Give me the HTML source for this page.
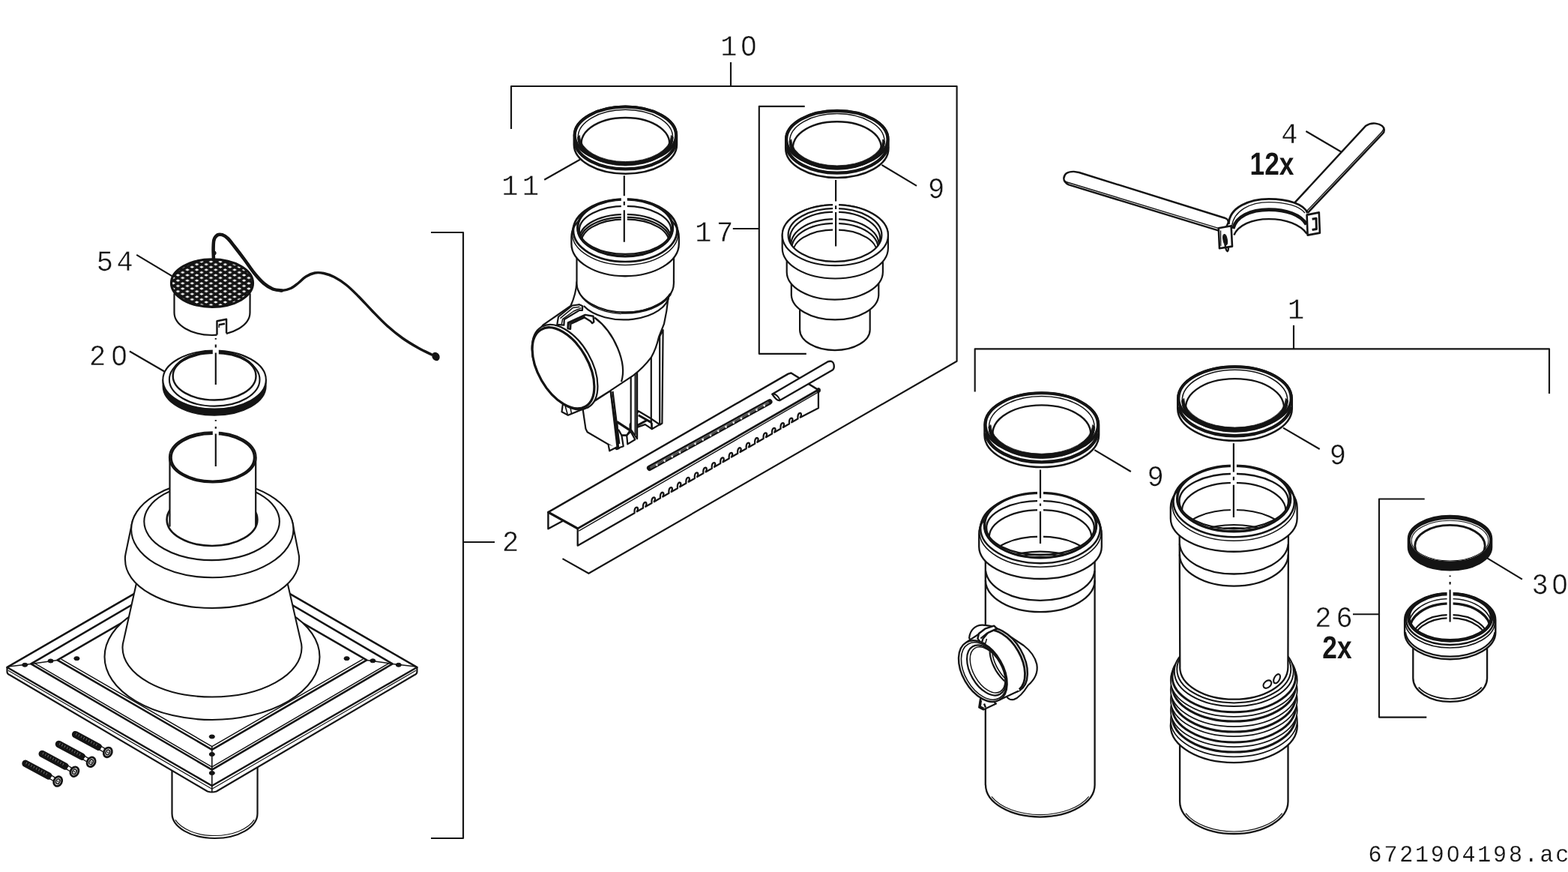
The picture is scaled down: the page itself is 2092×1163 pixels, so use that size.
<!DOCTYPE html>
<html lang="en">
<head>
<meta charset="utf-8">
<title>6721904198.ac</title>
<style>
html,body{margin:0;padding:0;background:#fff;}
body{width:2092px;height:1163px;overflow:hidden;}
svg{display:block;}
.l{fill:none;stroke:#141414;stroke-linecap:butt;stroke-linejoin:round;}
.r{fill:none;stroke:#141414;stroke-linecap:round;stroke-linejoin:round;}
.f{fill:#fff;stroke:#141414;stroke-linecap:round;stroke-linejoin:round;}
.k{fill:#141414;stroke:#141414;stroke-linejoin:round;}
.m,.b{-webkit-font-smoothing:antialiased;}
.m{font-family:"Liberation Mono","DejaVu Sans Mono",monospace;fill:#141414;stroke:#fff;}
.b{font-family:"Liberation Sans","DejaVu Sans",sans-serif;font-weight:bold;fill:#141414;}
</style>
</head>
<body>
<svg text-rendering="geometricPrecision" width="2092" height="1163" viewBox="0 0 2092 1163">
<rect x="0" y="0" width="2092" height="1163" fill="#fff"/>
<g id="labels" opacity="0.999">
<path d="M575,310 L618,310 L618,1118 L575,1118" class="l" stroke-width="2.15" />
<path d="M618,723 L660,723" class="l" stroke-width="2.15" />
<text transform="translate(670,735) scale(0.95,1)" font-size="39" letter-spacing="4.6" class="m" stroke-width="0.4">2</text>
<path d="M682,172 L682,115 L1276.6,115 L1276.6,481.7 L785.4,764.8 L750.5,745.1" class="l" stroke-width="2.15" />
<path d="M975,115 L975,83" class="l" stroke-width="2.15" />
<text transform="translate(961.2,73.8) scale(0.95,1)" font-size="39" letter-spacing="4.6" class="m" stroke-width="0.4">10</text>
<ellipse cx="998.92" cy="60.73" rx="3.15" ry="5.46" fill="#fff"/>
<path d="M1073.7,141.8 L1012.8,141.8 L1012.8,471.8 L1075.8,471.8" class="l" stroke-width="2.15" />
<path d="M1012.8,305 L977.8,305" class="l" stroke-width="2.15" />
<text transform="translate(927.3,322.2) scale(0.95,1)" font-size="39" letter-spacing="6.7" class="m" stroke-width="0.4">17</text>
<path d="M1300.7,522.4 L1300.7,465.4 L2067,465.4 L2067,525" class="l" stroke-width="2.15" />
<path d="M1726,465.4 L1726,433.8" class="l" stroke-width="2.15" />
<text transform="translate(1718,425) scale(0.95,1)" font-size="39" letter-spacing="4.6" class="m" stroke-width="0.4">1</text>
<path d="M1900.7,665.5 L1840,665.5 L1840,956.6 L1903.3,956.6" class="l" stroke-width="2.15" />
<path d="M1840,819.2 L1805,819.2" class="l" stroke-width="2.15" />
<text transform="translate(1754.3,836.3) scale(0.95,1)" font-size="39" letter-spacing="6.2" class="m" stroke-width="0.4">26</text>
<text transform="translate(1764.3,878.3) scale(0.833,1)" font-size="42.4" class="b">2x</text>
<text transform="translate(1709.3,190.6) scale(0.95,1)" font-size="39" letter-spacing="4.6" class="m" stroke-width="0.4">4</text>
<path d="M1742.4,175 L1790.6,203.3" class="l" stroke-width="2.15" />
<text transform="translate(1667.5,233.4) scale(0.833,1)" font-size="42.4" class="b">12x</text>
<text transform="translate(669.3,260) scale(0.95,1)" font-size="39" letter-spacing="5.6" class="m" stroke-width="0.4">11</text>
<path d="M726.2,239.7 L773.9,212.7" class="l" stroke-width="2.15" />
<text transform="translate(1238,264.2) scale(0.95,1)" font-size="39" letter-spacing="4.6" class="m" stroke-width="0.4">9</text>
<path d="M1176.4,219.9 L1223,247.8" class="l" stroke-width="2.15" />
<text transform="translate(128.8,361) scale(0.95,1)" font-size="39" letter-spacing="4.6" class="m" stroke-width="0.4">54</text>
<path d="M182.2,339.8 L229.8,368.3" class="l" stroke-width="2.15" />
<text transform="translate(119,487.3) scale(0.95,1)" font-size="39" letter-spacing="7.2" class="m" stroke-width="0.4">20</text>
<ellipse cx="159.19" cy="474.24" rx="3.15" ry="5.46" fill="#fff"/>
<path d="M172.9,468.5 L220.7,496.2" class="l" stroke-width="2.15" />
<text transform="translate(1530.6,648.4) scale(0.95,1)" font-size="39" letter-spacing="4.6" class="m" stroke-width="0.4">9</text>
<path d="M1460.3,600.1 L1508.8,629" class="l" stroke-width="2.15" />
<text transform="translate(1773.7,619.3) scale(0.95,1)" font-size="39" letter-spacing="4.6" class="m" stroke-width="0.4">9</text>
<path d="M1712,570.6 L1760.7,599" class="l" stroke-width="2.15" />
<text transform="translate(2043.5,792.2) scale(0.95,1)" font-size="39" letter-spacing="4.6" class="m" stroke-width="0.4">30</text>
<ellipse cx="2081.22" cy="779.13" rx="3.15" ry="5.46" fill="#fff"/>
<path d="M1984.2,744.3 L2030.9,772.7" class="l" stroke-width="2.15" />
<text transform="translate(1825.6,1148.6) scale(0.96,1)" font-size="31.3" letter-spacing="2.9" class="m" stroke-width="0.15">6721904198.ac</text>
<ellipse cx="1938.68" cy="1138.11" rx="2.55" ry="4.38" fill="#fff"/>
</g>
<g id="left">
<path d="M229.5,990 L229.5,1085 L229.50,1085.00 A57,33 0 0 0 343.50,1085.00 L343.6,990" class="f" stroke-width="2.2" />
<path d="M233.88,1093.44 A56,32 0 0 0 339.12,1093.44" class="l" stroke-width="1.2" />
<path d="M9.5,890 L9.5,896 Q9.5,899 13.5,900.5 L276.8,1055.5 Q282.8,1057.5 288.8,1055.5 L552.4,900.5 Q556.4,899 556.4,896 L556.4,890 L282.8,732 Z" class="f" stroke-width="2.2" />
<path d="M9.50,890.00 L282.80,1048.00 L556.40,890.00 L282.80,732.00Z" class="f" stroke-width="2.5" />
<path d="M11.0,894.2 L282.8,1052.2 L554.9,894.2" class="l" stroke-width="1.2" />
<path d="M41.30,885.40 L282.80,1026.60 L523.70,885.40 L282.80,744.20Z" class="f" stroke-width="2.5" />
<path d="M45.8,884.4 L282.8,1022.8999999999999 L519.2,884.4" class="l" stroke-width="1.5" />
<path d="M76.60,880.40 L282.80,999.80 L489.30,880.40 L282.80,761.00Z" class="f" stroke-width="2.5" />
<path d="M81.6,879.1999999999999 L282.8,995.5999999999999 L484.3,879.1999999999999" class="l" stroke-width="1.5" />
<path d="M11.5,889 L41.3,885.4 L76.6,880.4" class="l" stroke-width="1.5" />
<path d="M554.4,889 L523.7,885.4 L489.3,880.4" class="l" stroke-width="1.5" />
<path d="M282.8,995.8 L282.8,1056" class="l" stroke-width="1.6" />
<ellipse cx="33.2" cy="886.8" rx="3.6" ry="2.5" class="k" stroke-width="1" />
<ellipse cx="67.6" cy="881.5" rx="3.6" ry="2.5" class="k" stroke-width="1" />
<ellipse cx="102.4" cy="878.2" rx="3.6" ry="2.5" class="k" stroke-width="1" />
<ellipse cx="531.8" cy="886.8" rx="3.6" ry="2.5" class="k" stroke-width="1" />
<ellipse cx="497.4" cy="881.3" rx="3.6" ry="2.5" class="k" stroke-width="1" />
<ellipse cx="462.6" cy="878.2" rx="3.6" ry="2.5" class="k" stroke-width="1" />
<ellipse cx="282.8" cy="982.5" rx="3.6" ry="2.5" class="k" stroke-width="1" />
<ellipse cx="282.8" cy="1006" rx="3.6" ry="2.5" class="k" stroke-width="1" />
<ellipse cx="282.8" cy="1031" rx="3.6" ry="2.5" class="k" stroke-width="1" />
<ellipse cx="283" cy="876" rx="143.5" ry="84" class="f" stroke-width="2.09" />
<path d="M182.3,776.4 L165.2,853 Q163.3,860 163.5,864 L163.50,864.00 A119.5,65.5 0 0 0 402.50,864.00 Q402.7,860 400.8,853 L383.3,776.4 Z" class="f" stroke-width="2.09" />
<path d="M175.2,702 L167.6,738.5 Q166.6,743 167,747 L167.00,747.00 A116,64 0 0 0 399.00,747.00 Q399.4,743 398.4,738.5 L391.2,702 L391.50,706.00 A108.2,63 0 0 0 175.10,706.00 Z" class="f" stroke-width="2.09" />
<ellipse cx="283.3" cy="706" rx="108.2" ry="64.3" class="f" stroke-width="2.09" />
<ellipse cx="282.6" cy="695.6" rx="90.3" ry="51.5" class="f" stroke-width="2.09" />
<ellipse cx="283" cy="693" rx="60.4" ry="35" class="f" stroke-width="2.6" />
<path d="M226.5,610 L226.5,700 L341.2,700 L341.2,610 Z" class="f" stroke-width="0" stroke="none"/>
<path d="M226.5,610 L226.5,702.5" class="l" stroke-width="2.2" />
<path d="M341.2,610 L341.2,702.5" class="l" stroke-width="2.2" />
<ellipse cx="283.8" cy="609.9" rx="57.9" ry="33.7" class="f" stroke-width="1.98" />
<ellipse cx="283.8" cy="610.2" rx="55.6" ry="31.8" class="l" stroke-width="3.2" />
<path d="M217.30,506.60 A68.8,39 0 0 0 354.90,506.60 L354.9,515 L354.90,515.00 A68.8,39 0 0 1 217.30,515.00 Z" class="k" stroke-width="1.5" />
<ellipse cx="286.1" cy="506.6" rx="68.8" ry="39" class="f" stroke-width="2.09" />
<ellipse cx="286.2" cy="506.3" rx="60.3" ry="35.3" class="l" stroke-width="2.09" />
<ellipse cx="286.1" cy="501.5" rx="55.4" ry="32" class="l" stroke-width="2.42" />
<path d="M232.07,491.70 A57.5,34.5 0 0 1 340.13,491.70" class="l" stroke-width="3.0" />
<defs><pattern id="mesh" width="12.6" height="7.2" patternUnits="userSpaceOnUse" patternTransform="translate(281.5 370.6)"><rect width="12.6" height="7.2" fill="#141414"/><path d="M-2.9,0 L0,-1.65 L2.9,0 L0,1.65Z M9.7,0 L12.6,-1.65 L15.5,0 L12.6,1.65Z M-2.9,7.2 L0,5.55 L2.9,7.2 L0,8.85Z M9.7,7.2 L12.6,5.55 L15.5,7.2 L12.6,8.85Z M3.4,3.6 L6.3,1.95 L9.2,3.6 L6.3,5.25Z" fill="#fff"/></pattern></defs>
<path d="M232.5,392 L232.5,417 L232.50,417.00 A50.5,30 0 0 0 333.50,417.00 L333.6,392 Z" class="f" stroke-width="2.2" />
<path d="M289.5,450 L289.5,428.3 L302.1,425.8 L302.1,450 Z" class="f" stroke-width="0" stroke="none"/>
<path d="M289.5,446.6 L289.5,428.3 L302.1,425.8 L302.1,444.6" class="l" stroke-width="2.42" />
<path d="M292,433.3 L300,431.8" class="l" stroke-width="2.6" />
<path d="M292.2,433 L292.2,437" class="l" stroke-width="1.4" />
<ellipse cx="283" cy="377.6" rx="54.5" ry="31.7" fill="url(#mesh)" stroke="#141414" stroke-width="3.2"/>
<path d="M285.00,346.00 C284.93,343.67 284.52,336.33 284.60,332.00 C284.68,327.67 284.60,323.08 285.50,320.00 C286.40,316.92 288.17,314.63 290.00,313.50 C291.83,312.37 294.17,312.45 296.50,313.20 C298.83,313.95 301.25,315.37 304.00,318.00 C306.75,320.63 309.33,324.33 313.00,329.00 C316.67,333.67 321.67,340.17 326.00,346.00 C330.33,351.83 334.67,358.67 339.00,364.00 C343.33,369.33 347.83,374.42 352.00,378.00 C356.17,381.58 360.00,383.92 364.00,385.50 C368.00,387.08 372.00,387.67 376.00,387.50 C380.00,387.33 384.33,386.17 388.00,384.50 C391.67,382.83 394.67,380.08 398.00,377.50 C401.33,374.92 404.33,371.25 408.00,369.00 C411.67,366.75 416.00,364.75 420.00,364.00 C424.00,363.25 427.67,363.58 432.00,364.50 C436.33,365.42 441.00,366.92 446.00,369.50 C451.00,372.08 456.67,375.75 462.00,380.00 C467.33,384.25 472.33,389.33 478.00,395.00 C483.67,400.67 489.67,407.50 496.00,414.00 C502.33,420.50 509.17,427.83 516.00,434.00 C522.83,440.17 530.00,446.00 537.00,451.00 C544.00,456.00 551.50,460.33 558.00,464.00 C564.50,467.67 573.00,471.50 576.00,473.00" class="r" stroke-width="3.4" />
<path d="M285.00,346.00 C284.93,343.67 284.52,336.33 284.60,332.00 C284.68,327.67 284.60,323.08 285.50,320.00 C286.40,316.92 288.17,314.63 290.00,313.50 C291.83,312.37 294.17,312.45 296.50,313.20 C298.83,313.95 301.25,315.37 304.00,318.00 C306.75,320.63 309.33,324.33 313.00,329.00 C316.67,333.67 321.67,340.17 326.00,346.00 C330.33,351.83 334.67,358.67 339.00,364.00 C343.33,369.33 347.83,374.42 352.00,378.00 C356.17,381.58 360.00,383.92 364.00,385.50 C368.00,387.08 374.00,387.17 376.00,387.50" class="r" stroke-width="4.5" />
<ellipse cx="581.5" cy="475.5" rx="4.2" ry="5.2" class="k" stroke-width="1.5" transform="rotate(-30 581.5 475.5)" />
<ellipse cx="286" cy="337.5" rx="2.2" ry="2.6" class="k" stroke-width="1" />
<path d="M287.8,464.5 L287.8,474.5" stroke="#fff" stroke-width="8" fill="none"/>
<path d="M287.8,573 L287.8,582" stroke="#fff" stroke-width="8" fill="none"/>
<path d="M287.8,451 L287.8,452.8 M287.8,459.6 L287.8,463.4 M287.8,470.5 L287.8,513 M287.8,560 L287.8,561.8 M287.8,569 L287.8,571.8 M287.8,578.5 L287.8,622" class="l" stroke-width="2.2" />
<path d="M100.6,979.6 L131.6,996.3" stroke="#141414" stroke-width="9.4" stroke-linecap="round" fill="none"/>
<path d="M101.6,979.0 L131.6,995.1" stroke="#8a8a8a" stroke-width="3.2" stroke-dasharray="0.7 3.1" fill="none"/>
<path d="M133.6,997.4 L141.8,1002.3" stroke="#141414" stroke-width="6.4" fill="none"/>
<path d="M134.8,998.0 L139.2,1000.9" stroke="#fff" stroke-width="3.6" fill="none"/>
<ellipse cx="143.8" cy="1003.4" rx="5.2" ry="6.6" transform="rotate(28 143.8 1003.4)" fill="#fff" stroke="#141414" stroke-width="2.8"/>
<ellipse cx="143.8" cy="1003.4" rx="2.5" ry="3.5" transform="rotate(28 143.8 1003.4)" fill="#ddd" stroke="#141414" stroke-width="1.5"/>
<circle cx="143.8" cy="1003.4" r="0.9" fill="#141414"/>
<path d="M78.4,992.5 L109.4,1009.2" stroke="#141414" stroke-width="9.4" stroke-linecap="round" fill="none"/>
<path d="M79.4,991.9 L109.4,1008.0" stroke="#8a8a8a" stroke-width="3.2" stroke-dasharray="0.7 3.1" fill="none"/>
<path d="M111.4,1010.3 L119.6,1015.2" stroke="#141414" stroke-width="6.4" fill="none"/>
<path d="M112.6,1010.9 L117.0,1013.8" stroke="#fff" stroke-width="3.6" fill="none"/>
<ellipse cx="121.6" cy="1016.3" rx="5.2" ry="6.6" transform="rotate(28 121.6 1016.3)" fill="#fff" stroke="#141414" stroke-width="2.8"/>
<ellipse cx="121.6" cy="1016.3" rx="2.5" ry="3.5" transform="rotate(28 121.6 1016.3)" fill="#ddd" stroke="#141414" stroke-width="1.5"/>
<circle cx="121.6" cy="1016.3" r="0.9" fill="#141414"/>
<path d="M56.2,1005.4 L87.2,1022.1" stroke="#141414" stroke-width="9.4" stroke-linecap="round" fill="none"/>
<path d="M57.2,1004.8 L87.2,1020.9" stroke="#8a8a8a" stroke-width="3.2" stroke-dasharray="0.7 3.1" fill="none"/>
<path d="M89.2,1023.2 L97.4,1028.1" stroke="#141414" stroke-width="6.4" fill="none"/>
<path d="M90.4,1023.8 L94.8,1026.7" stroke="#fff" stroke-width="3.6" fill="none"/>
<ellipse cx="99.4" cy="1029.2" rx="5.2" ry="6.6" transform="rotate(28 99.4 1029.2)" fill="#fff" stroke="#141414" stroke-width="2.8"/>
<ellipse cx="99.4" cy="1029.2" rx="2.5" ry="3.5" transform="rotate(28 99.4 1029.2)" fill="#ddd" stroke="#141414" stroke-width="1.5"/>
<circle cx="99.4" cy="1029.2" r="0.9" fill="#141414"/>
<path d="M34.0,1018.3 L65.0,1035.0" stroke="#141414" stroke-width="9.4" stroke-linecap="round" fill="none"/>
<path d="M35.0,1017.7 L65.0,1033.8" stroke="#8a8a8a" stroke-width="3.2" stroke-dasharray="0.7 3.1" fill="none"/>
<path d="M67.0,1036.1 L75.2,1041.0" stroke="#141414" stroke-width="6.4" fill="none"/>
<path d="M68.2,1036.7 L72.6,1039.6" stroke="#fff" stroke-width="3.6" fill="none"/>
<ellipse cx="77.2" cy="1042.1" rx="5.2" ry="6.6" transform="rotate(28 77.2 1042.1)" fill="#fff" stroke="#141414" stroke-width="2.8"/>
<ellipse cx="77.2" cy="1042.1" rx="2.5" ry="3.5" transform="rotate(28 77.2 1042.1)" fill="#ddd" stroke="#141414" stroke-width="1.5"/>
<circle cx="77.2" cy="1042.1" r="0.9" fill="#141414"/>
</g>
<g id="mid">
<g id="elbow">
<path d="M777.5,545 L781.4,571.7 L783.6,576.2 L822.7,599.1 L826,598 L814.5,521 Z" class="f" stroke-width="2.2" />
<path d="M811.6,592.9 L813.2,601.3 L822.7,596.4" class="f" stroke-width="2.2" />
<path d="M868.8,470 L868.8,558.5 L880.5,566.5 L883.4,564.5 L884.6,440 Z" class="f" stroke-width="2.2" />
<path d="M880.2,445 L880.2,566.2" class="l" stroke-width="2.2" />
<path d="M851.8,548.2 L868.6,558.3 L869.7,572.2 L860.7,566.1 L840.6,573.2 L840.6,566 Z" class="f" stroke-width="2.2" />
<path d="M851.8,553.8 L869.7,563.9" class="l" stroke-width="3.0" />
<path d="M869.7,563.9 L869.7,572.2 L880.3,566.1" class="l" stroke-width="2.2" />
<path d="M840.6,572.8 L863,560.5" class="l" stroke-width="3.0" />
<path d="M841.7,503 L841.7,573 L850.1,585 L850.1,495 Z" class="f" stroke-width="2.2" />
<path d="M847.6,497 L847.6,580" class="l" stroke-width="2.2" />
<path d="M823.3,562.7 L840.6,573.9 L847.3,586.2 L837.3,592.4 L836.2,580.6 L829.4,580.6 L831.7,595.2 L825,597.5 Z" class="f" stroke-width="2.2" />
<path d="M823.3,562.7 L840.6,573.9" class="l" stroke-width="3.2" />
<path d="M825,572.8 L829.4,580.6 L836.2,580.6 L840.6,574" class="l" stroke-width="2.2" />
<path d="M836.2,580.6 L841.5,575.5" class="l" stroke-width="2.2" />
<path d="M814.9,523 L823.9,598.5" class="l" stroke-width="2.42" />
<path d="M817.4,522 L826.2,592" class="l" stroke-width="2.42" />
<path d="M751.2,537 L749.5,549.3 L757.9,553.8 L776.9,546 L772,541 Z" class="f" stroke-width="2.2" />
<path d="M754,541 L757.2,552.5" class="l" stroke-width="1.6" />
<path d="M761,544 L762.5,551.5" class="l" stroke-width="1.6" />
<path d="M769.5,376 Q768.6,392 761.4,408 L724.6,433.3 L722.6,436 L784.6,543.3 L786.3,538.6 L813.8,521.4 L844.7,500.8 Q858,491 868.8,476.7 Q875.5,465 879,449.5 L885.9,432.2 Q889.9,414.9 891.6,396.5 L899.1,376 Z" class="f" stroke-width="2.2" />
<path d="M892.72,393.61 A60.5,34.6 0 0 1 778.88,408.04" class="l" stroke-width="2.2" />
<path d="M749.79,441.51 A62,35.8 0 0 1 841.84,453.29" class="l" stroke-width="2.2" transform="rotate(60 787.1 470.1)" />
<path d="M743.3,432.8 L745,422.5 L763.5,407.5 L773,406.2 L777.3,408.3 L776.9,413.9 L773,413.9 L752.8,426 L752.4,433.7 Z" class="f" stroke-width="2.2" />
<path d="M747.4,424.6 L764.2,410.6 L773.4,409.2" class="l" stroke-width="1.5" />
<path d="M749.2,432.6 L750.6,425.6 L765.4,415 L775.6,410.6" class="l" stroke-width="1.5" />
<path d="M757.5,438 L757.9,430.3 L780.7,419.9 L791.5,421.7 L792.3,429.4 L790.2,431.1 L788,428.5 L779.9,423.4 L761.4,432 L761,438.9 Z" class="f" stroke-width="2.4" />
<path d="M758.6,437 L759.2,431.2 L780.5,421.6" class="l" stroke-width="1.6" />
<ellipse cx="753.6" cy="489.6" rx="62" ry="35.8" class="f" stroke-width="2.2" transform="rotate(60 753.6 489.6)" />
<ellipse cx="751.5" cy="490.8" rx="59.2" ry="33.4" class="l" stroke-width="3.2" transform="rotate(60 751.5 490.8)" />
<path d="M769.5,330 L769.5,378 L769.50,378.00 A64.7,38.6 0 0 0 898.90,378.00 L899.1,330 Z" class="f" stroke-width="2.2" />
<path d="M894.53,391.80 A64.2,38.6 0 0 1 828.60,417.05" class="l" stroke-width="3.2" />
<path d="M828.67,418.45 A63.5,38.2 0 0 1 771.66,387.03" class="l" stroke-width="1.4" />
<path d="M762.40,316.30 A71.7,43.02 0 0 1 905.80,316.30 L905.80,325.20 L905.80,325.20 A71.7,43.02 0 0 1 762.40,325.20 Z" class="f" stroke-width="2.31" />
<ellipse cx="834.1" cy="310.8" rx="70.8" ry="42.6" class="l" stroke-width="1.5" />
<ellipse cx="834.1" cy="307.3" rx="69.2" ry="41.699999999999996" class="l" stroke-width="2.7" />
<ellipse cx="834.1" cy="303.8" rx="64.0" ry="38.4" class="f" stroke-width="1.2" />
<ellipse cx="834.1" cy="303.8" rx="63.4" ry="38.0" class="l" stroke-width="3.3" />
<ellipse cx="834.1" cy="306.8" rx="61.2" ry="32.0" class="l" stroke-width="2.2" />
<clipPath id="c1"><ellipse cx="834.1" cy="306.8" rx="61.2" ry="32.0"/></clipPath><g clip-path="url(#c1)">
<path d="M774.03,323.36 A61.0,32.0 0 1 1 894.17,323.36" class="l" stroke-width="2.2" />
<path d="M775.21,325.63 A59.8,30.7 0 1 1 892.99,325.63" class="l" stroke-width="2.2" />
<path d="M776.59,327.49 A58.4,29.9 0 1 1 891.61,327.49" class="l" stroke-width="2.2" />
</g>
</g>
<path d="M765.80,180.40 A68.6,38.7 0 0 1 903.00,180.40 L903.00,193.00 L903.00,193.00 A68.6,38.7 0 0 1 765.80,193.00 Z" class="f" stroke-width="2.5" />
<path d="M901.83,190.39 A67.8,39.1 0 0 1 766.97,190.39" class="l" stroke-width="4.3" />
<ellipse cx="834.4" cy="180.4" rx="67.6" ry="37.800000000000004" class="l" stroke-width="4.0" />
<ellipse cx="834.4" cy="183.0" rx="63.199999999999996" ry="36.7" class="l" stroke-width="1.5" />
<path d="M898.20,183.10 A63.8,37.900000000000006 0 0 1 770.60,183.10 L773.40,180.50 A60.99999999999999,35.1 0 0 0 895.40,180.50 Z" class="k" stroke-width="0.8" />
<path d="M777.35,198.98 A58.8,33.800000000000004 0 1 1 891.45,198.98" class="l" stroke-width="2.4" />
<path d="M832.8,262 L832.8,295" stroke="#fff" stroke-width="8" fill="none"/>
<path d="M832.8,234.3 L832.8,261.2 M832.8,268.8 L832.8,273.8 M832.8,280.3 L832.8,322.8" class="l" stroke-width="2.2" />
<path d="M1067.1,410 L1067.1,439.7 L1067.10,439.70 A46.80000000000007,27.4 0 0 0 1160.70,439.70 L1160.7,410 Z" class="f" stroke-width="2.2" />
<path d="M1055.8,370 L1055.8,392.6 L1055.80,392.60 A58.25,33.8 0 0 0 1172.30,392.60 L1172.3,370 Z" class="f" stroke-width="2.2" />
<path d="M1049.7,345 L1049.7,362.8 L1049.70,362.80 A64.10000000000002,36.8 0 0 0 1177.90,362.80 L1177.9,345 Z" class="f" stroke-width="2.2" />
<path d="M1043.70,313.70 A70.6,40.5 0 0 1 1184.90,313.70 L1184.9,331 L1184.90,331.00 A70.6,40.5 0 0 1 1043.70,331.00 Z" class="f" stroke-width="2.2" />
<ellipse cx="1114.3" cy="313.7" rx="70.6" ry="40.5" class="f" stroke-width="2.2" />
<ellipse cx="1114" cy="313.4" rx="62.4" ry="35.5" class="l" stroke-width="2.2" />
<clipPath id="c2"><ellipse cx="1114" cy="313.4" rx="62.4" ry="35.5"/></clipPath><g clip-path="url(#c2)">
<path d="M1054.71,324.13 A60.2,35.3 0 1 1 1173.29,324.13" class="l" stroke-width="2.2" />
<path d="M1056.29,331.28 A58.6,33.3 0 1 1 1171.71,331.28" class="l" stroke-width="2.2" />
<path d="M1057.47,335.59 A57.4,32.2 0 1 1 1170.53,335.59" class="l" stroke-width="2.2" />
<path d="M1059.24,341.16 A55.6,29.7 0 1 1 1168.76,341.16" class="l" stroke-width="2.2" />
</g>
<path d="M1048.20,185.70 A68.6,38.7 0 0 1 1185.40,185.70 L1185.40,198.30 L1185.40,198.30 A68.6,38.7 0 0 1 1048.20,198.30 Z" class="f" stroke-width="2.5" />
<path d="M1184.23,195.69 A67.8,39.1 0 0 1 1049.37,195.69" class="l" stroke-width="4.3" />
<ellipse cx="1116.8" cy="185.7" rx="67.6" ry="37.800000000000004" class="l" stroke-width="4.0" />
<ellipse cx="1116.8" cy="188.29999999999998" rx="63.199999999999996" ry="36.7" class="l" stroke-width="1.5" />
<path d="M1180.60,188.40 A63.8,37.900000000000006 0 0 1 1053.00,188.40 L1055.80,185.80 A60.99999999999999,35.1 0 0 0 1177.80,185.80 Z" class="k" stroke-width="0.8" />
<path d="M1059.75,204.28 A58.8,33.800000000000004 0 1 1 1173.85,204.28" class="l" stroke-width="2.4" />
<path d="M1115.1,268 L1115.1,309" stroke="#fff" stroke-width="8" fill="none"/>
<path d="M1115.1,240 L1115.1,268.4 M1115.1,274.2 L1115.1,278.9 M1115.1,283 L1115.1,328.5" class="l" stroke-width="2.2" />
<path d="M731.4,683.1 L731.4,705.2 L750,695.2 L750,690 Z" class="f" stroke-width="2.42" />
<path d="M770.7,704.9 L770.7,727.6999999999999 L846.6,684.2 L846.60,684.20 C846.00,678.70 847.80,676.40 849.90,676.60 C851.60,677.00 851.20,679.60 849.80,682.35 L858.07,677.59 C857.47,672.09 859.27,669.79 861.37,669.99 C863.07,670.39 862.67,672.99 861.27,675.74 L869.54,670.98 C868.94,665.48 870.74,663.18 872.84,663.38 C874.54,663.78 874.14,666.38 872.74,669.13 L881.01,664.36 C880.41,658.86 882.21,656.56 884.31,656.76 C886.01,657.16 885.61,659.76 884.21,662.51 L892.48,657.75 C891.88,652.25 893.68,649.95 895.78,650.15 C897.48,650.55 897.08,653.15 895.68,655.90 L903.95,651.14 C903.35,645.64 905.15,643.34 907.25,643.54 C908.95,643.94 908.55,646.54 907.15,649.29 L915.42,644.53 C914.82,639.03 916.62,636.73 918.72,636.93 C920.42,637.33 920.02,639.93 918.62,642.68 L926.89,637.91 C926.29,632.41 928.09,630.11 930.19,630.31 C931.89,630.71 931.49,633.31 930.09,636.06 L938.36,631.30 C937.76,625.80 939.56,623.50 941.66,623.70 C943.36,624.10 942.96,626.70 941.56,629.45 L949.83,624.69 C949.23,619.19 951.03,616.89 953.13,617.09 C954.83,617.49 954.43,620.09 953.03,622.84 L961.30,618.08 C960.70,612.58 962.50,610.28 964.60,610.48 C966.30,610.88 965.90,613.48 964.50,616.23 L972.77,611.46 C972.17,605.96 973.97,603.66 976.07,603.86 C977.77,604.26 977.37,606.86 975.97,609.61 L984.24,604.85 C983.64,599.35 985.44,597.05 987.54,597.25 C989.24,597.65 988.84,600.25 987.44,603.00 L995.71,598.24 C995.11,592.74 996.91,590.44 999.01,590.64 C1000.71,591.04 1000.31,593.64 998.91,596.39 L1007.18,591.63 C1006.58,586.13 1008.38,583.83 1010.48,584.03 C1012.18,584.43 1011.78,587.03 1010.38,589.78 L1018.65,585.01 C1018.05,579.51 1019.85,577.21 1021.95,577.41 C1023.65,577.81 1023.25,580.41 1021.85,583.16 L1030.12,578.40 C1029.52,572.90 1031.32,570.60 1033.42,570.80 C1035.12,571.20 1034.72,573.80 1033.32,576.55 L1041.59,571.79 C1040.99,566.29 1042.79,563.99 1044.89,564.19 C1046.59,564.59 1046.19,567.19 1044.79,569.94 L1053.06,565.18 C1052.46,559.68 1054.26,557.38 1056.36,557.58 C1058.06,557.98 1057.66,560.58 1056.26,563.33 L1064.53,558.56 C1063.93,553.06 1065.73,550.76 1067.83,550.96 C1069.53,551.36 1069.13,553.96 1067.73,556.71 L1091.90,544.30 L1091.90,519.9 Z" class="f" stroke-width="2.3" />
<path d="M731.4,683.1 L1051.6,498.6 L1055.5,497.5 L1091.5,519.9 L770.7,704.9 Z" class="f" stroke-width="2.42" />
<path d="M731.4,683.1 L770.7,704.9" class="l" stroke-width="3.0" />
<path d="M772.2,708.1999999999999 L1091.0,523.4" class="l" stroke-width="1.4" />
<ellipse cx="1092.1" cy="520.5" rx="2.4" ry="3.0" class="k" stroke-width="1" />
<path d="M866.6,624.3 L1026.8,535.9" stroke="#141414" stroke-width="7.4" stroke-linecap="round" fill="none"/>
<path d="M868.5,623.3 L1025,536.9" stroke="#999" stroke-width="2.4" stroke-linecap="round" fill="none"/>
<path d="M867.5,623.8 L1026,536.4" stroke="#141414" stroke-width="1.0" stroke-dasharray="8 3.7" fill="none"/>
<path d="M875.5,620.9 L1026,537.8" stroke="#fff" stroke-width="2.2" stroke-dasharray="2 9.7" fill="none"/>
<path d="M1030.2,525.7 L1104.3,482.4 Q1111.5,480 1112.6,486.5 Q1113.4,491 1111.2,493.2 L1040,534.2 Q1036,534.6 1030.2,525.7 Z" class="f" stroke-width="2.31" />
<path d="M1030.2,525.7 Q1036.5,524.5 1040.8,533.8" class="l" stroke-width="1.98" />
</g>
<g id="clip">
<path d="M1439.6,230 L1634.8,291 Q1639.5,293 1638.6,297 L1636.5,302 L1625.3,307.4 L1425.8,246.3 Q1419.4,243.5 1419.3,238 Q1420,228.6 1432.7,228.9 Z" class="f" stroke-width="2.42" />
<path d="M1420.3,241 Q1422,243 1427,244 L1626.4,304.6" class="l" stroke-width="1.4" />
<path d="M1727.3,270.4 L1821.9,168.1 Q1828,163.8 1835,164.6 Q1846.4,166.4 1846.8,173 Q1846.9,176.5 1845.1,177.8 L1745.3,283.3 Z" class="f" stroke-width="2.42" />
<path d="M1743.4,281.6 L1843.2,176.4 Q1845.6,174 1846.2,171" class="l" stroke-width="1.4" />
<path d="M1639.3,298 C1640,276 1668,265.2 1692.9,265.2 C1718,265.2 1740,272 1744.5,284.2 L1743.6,311.7 C1735,299 1716,291.9 1692.9,291.9 C1670,291.9 1652,300 1646.4,311.7 L1640,316 Z" class="f" stroke-width="0" stroke="none"/>
<path d="M1639.3,299 C1640,276 1668,265.4 1692.9,265.4 C1718,265.4 1740,272 1744.5,284.2" class="l" stroke-width="2.8" />
<path d="M1643.4,302 C1646,281 1668,269.6 1692.9,269.6 C1716,269.6 1734,275 1741,284" class="l" stroke-width="1.3" />
<path d="M1645.2,305 C1649,289 1668,279.6 1692.9,279.6 C1716,279.6 1736,286.5 1743,299.5" class="l" stroke-width="4.6" />
<path d="M1646.4,313.5 C1652,300.6 1670,292.1 1692.9,292.1 C1716,292.1 1735,299.5 1743.6,311.7" class="l" stroke-width="2.42" />
<path d="M1625.8,304.2 L1642.6,301.2 L1644,328.6 L1627,331.2 Z" class="f" stroke-width="2.6" />
<path d="M1628.6,307.5 L1628.9,328" class="l" stroke-width="1.2" />
<ellipse cx="1634.6" cy="319.6" rx="2.6" ry="7.2" class="k" stroke-width="1.2" transform="rotate(-10 1634.6 319.6)" />
<path d="M1634.5,326 Q1635.5,334.5 1637.6,335.2 Q1639.3,334.5 1638.6,329" class="l" stroke-width="2.42" />
<path d="M1743.6,286.6 L1759.8,283.4 L1760.9,310.6 L1744.6,313.6 Z" class="f" stroke-width="2.6" />
<path d="M1750.6,292.3 L1756,291.3 L1756.4,305.6 L1750.6,306.6" class="l" stroke-width="3.0" />
</g>
<g id="right">
<path d="M1314.8,726 L1314.8,1047 L1315.00,1047.00 A72.8,42.6 0 0 0 1460.60,1047.00 L1460.6,726 Z" class="f" stroke-width="2.31" />
<path d="M1322.91,1062.35 A71.6,42 0 0 0 1452.69,1062.35" class="l" stroke-width="1.2" />
<path d="M1460.52,761.36 A72.9,42.5 0 0 1 1315.08,761.36" class="l" stroke-width="2.31" />
<path d="M1460.70,773.70 A72.9,42.5 0 0 1 1314.90,773.70" class="l" stroke-width="2.31" />
<path d="M1293.1,851 C1294,840 1302,833.2 1311,833.6 C1318,833.8 1325,835.5 1330,838.3 L1343.2,845.9 L1365.9,861 C1375,868 1381,876 1383.3,886 C1385,896 1381,906 1371.6,914 C1366,923 1360,930.5 1352.7,932.9 C1348,934 1345,932 1343,929 Z" class="f" stroke-width="2.2" />
<ellipse cx="1337" cy="880.5" rx="46.6" ry="28.4" class="f" stroke-width="2.42" transform="rotate(60 1337 880.5)" />
<path d="M1289.65,878.96 A45.4,27.2 0 0 1 1379.95,878.96" class="l" stroke-width="2.8" transform="rotate(60 1334.8 881.8)" />
<path d="M1289.2,856.8 L1313.7,840.1 L1360.3,920.9 L1333.4,933.4 Z" class="f" stroke-width="0" stroke="none"/>
<path d="M1289.6,856.4 L1313,841" class="l" stroke-width="2.2" />
<path d="M1333.4,933.4 L1359,921.5" class="l" stroke-width="2.2" />
<path d="M1304.4,851.6 L1306,845 L1314.8,838.3 L1326.2,834.6 L1330,838.3 L1318,844 L1311.4,852 L1309.5,858.5 Z" class="f" stroke-width="2.4" />
<path d="M1308.3,851.5 L1316.8,844.6 L1327.2,840.2" class="l" stroke-width="1.98" />
<path d="M1311.6,857 L1314.6,858.6 L1316.4,852" class="l" stroke-width="1.6" />
<path d="M1308,932 L1306.2,943.5 L1312,946.4 L1329,938.5 L1322,933 Z" class="f" stroke-width="2.2" />
<path d="M1308.6,934 L1307.4,942.6 L1312.5,945" class="l" stroke-width="3.0" />
<path d="M1313,938.5 L1315,943.6" class="l" stroke-width="2.42" />
<ellipse cx="1311.3" cy="895.1" rx="44.3" ry="27.2" class="f" stroke-width="2.4" transform="rotate(60 1311.3 895.1)" />
<ellipse cx="1312.6" cy="895.0" rx="41.6" ry="25.2" class="l" stroke-width="1.6" transform="rotate(60 1312.6 895.0)" />
<ellipse cx="1316.0" cy="894.0" rx="36.6" ry="21.2" class="l" stroke-width="2.2" transform="rotate(60 1316.0 894.0)" />
<ellipse cx="1317.6" cy="893.4" rx="33.6" ry="18.8" class="f" stroke-width="1.5" transform="rotate(60 1317.6 893.4)" />
<clipPath id="mouth"><ellipse cx="1317.6" cy="893.4" rx="33" ry="18.2" transform="rotate(60 1317.6 893.4)"/></clipPath><g clip-path="url(#mouth)">
<path d="M1374.84,896.50 A37,21 0 0 1 1310.06,886.65" class="l" stroke-width="2.2" transform="rotate(60 1346.5 883)" />
<path d="M1377.84,895.00 A37,21 0 0 1 1313.06,885.15" class="l" stroke-width="1.6" transform="rotate(60 1349.5 881.5)" />
</g>
<path d="M1306.20,712.60 A81.8,47.426595744680846 0 0 1 1469.80,712.60 L1469.80,729.20 L1469.80,729.20 A81.8,42.826595744680844 0 0 1 1306.20,729.20 Z" class="f" stroke-width="2.31" />
<ellipse cx="1388" cy="708.6" rx="81.4" ry="47.6" class="l" stroke-width="1.6" />
<ellipse cx="1388" cy="704.6" rx="79.8" ry="46.6" class="l" stroke-width="2.4" />
<ellipse cx="1388" cy="700.6" rx="75.2" ry="43.6" class="f" stroke-width="1.2" />
<clipPath id="c3"><ellipse cx="1388" cy="700.6" rx="74.2" ry="42.6"/></clipPath><g clip-path="url(#c3)">
<path d="M1322.30,745.60 A65.7,30 0 0 1 1453.70,745.60" class="l" stroke-width="2.2" />
<path d="M1330.30,760.60 A57.7,25 0 0 1 1445.70,760.60" class="l" stroke-width="2.2" />
<path d="M1333.80,763.10 A54.2,24 0 0 1 1442.20,763.10" class="l" stroke-width="1.2" />
</g>
<clipPath id="c4"><ellipse cx="1388" cy="704.1" rx="71.9" ry="36.2"/></clipPath><g clip-path="url(#c4)">
<path d="M1320.84,722.35 A68.2,36.0 0 1 1 1455.16,722.35" class="l" stroke-width="2.2" />
</g>
<ellipse cx="1388" cy="704.1" rx="71.9" ry="36.2" class="l" stroke-width="2.42" />
<ellipse cx="1388" cy="700.6" rx="74.60000000000001" ry="43.2" class="l" stroke-width="3.4" />
<path d="M1313.52,566.40 A76.2832,43.034400000000005 0 0 1 1466.08,566.40 L1466.08,580.41 L1466.08,580.41 A76.2832,43.034400000000005 0 0 1 1313.52,580.41 Z" class="f" stroke-width="2.5" />
<path d="M1464.78,577.51 A75.39359999999999,43.479200000000006 0 0 1 1314.82,577.51" class="l" stroke-width="4.3" />
<ellipse cx="1389.8" cy="566.4" rx="75.1712" ry="42.03360000000001" class="l" stroke-width="4.0" />
<ellipse cx="1389.8" cy="569.2912" rx="70.27839999999999" ry="40.8104" class="l" stroke-width="1.5" />
<path d="M1460.75,569.40 A70.9456,42.144800000000004 0 0 1 1318.85,569.40 L1321.97,566.51 A67.832,39.031200000000005 0 0 0 1457.63,566.51 Z" class="k" stroke-width="0.8" />
<path d="M1326.36,587.06 A65.3856,37.58560000000001 0 1 1 1453.24,587.06" class="l" stroke-width="2.4" />
<path d="M1388,655 L1388,693" stroke="#fff" stroke-width="8" fill="none"/>
<path d="M1388,712 L1388,719" stroke="#fff" stroke-width="8" fill="none"/>
<path d="M1388,626.4 L1388,664.5 M1388,671.6 L1388,674.8 M1388,681.9 L1388,725.1" class="l" stroke-width="2.2" />
<path d="M1574.1,985 L1574.1,1069 L1574.10,1069.00 A72.2,43 0 0 0 1718.50,1069.00 L1718.5,985 Z" class="f" stroke-width="2.31" />
<path d="M1581.95,1084.52 A71,42.4 0 0 0 1710.65,1084.52" class="l" stroke-width="1.2" />
<ellipse cx="1646.3" cy="968.1" rx="84.5" ry="49" class="f" stroke-width="2.3" />
<ellipse cx="1646.3" cy="960.3" rx="84.5" ry="49" class="f" stroke-width="1.7" />
<ellipse cx="1646.3" cy="955.5" rx="82.4" ry="47.6" class="f" stroke-width="3.0" />
<ellipse cx="1646.3" cy="947.2" rx="84.5" ry="49" class="f" stroke-width="1.7" />
<ellipse cx="1646.3" cy="942.4" rx="82.4" ry="47.6" class="f" stroke-width="3.0" />
<ellipse cx="1646.3" cy="933.2" rx="84.5" ry="49" class="f" stroke-width="1.7" />
<ellipse cx="1646.3" cy="928.5" rx="82.4" ry="47.6" class="f" stroke-width="3.0" />
<ellipse cx="1646.3" cy="920.1" rx="84.5" ry="49" class="f" stroke-width="1.7" />
<ellipse cx="1646.3" cy="914.5" rx="82.4" ry="47.6" class="f" stroke-width="3.0" />
<ellipse cx="1646.3" cy="906.9" rx="84.5" ry="49" class="f" stroke-width="1.7" />
<ellipse cx="1646.3" cy="902.1" rx="82.4" ry="47.6" class="f" stroke-width="3.0" />
<ellipse cx="1646.3" cy="895.4" rx="79.5" ry="46.6" class="f" stroke-width="1.98" />
<ellipse cx="1646.3" cy="892.4" rx="76" ry="45" class="f" stroke-width="1.98" />
<path d="M1573.6,690 L1574.3,890 L1574.20,890.00 A72.1,42.7 0 0 0 1718.40,890.00 L1719,690 Z" class="f" stroke-width="2.31" />
<path d="M1718.80,725.51 A72.6,42.2 0 0 1 1573.80,725.51" class="l" stroke-width="2.31" />
<path d="M1718.70,739.40 A72.4,42.2 0 0 1 1573.90,739.40" class="l" stroke-width="2.31" />
<ellipse cx="1690.9" cy="912.6" rx="6.2" ry="4.3" class="l" stroke-width="2.09" transform="rotate(-42 1690.9 912.6)" />
<ellipse cx="1703.6" cy="905.2" rx="6.6" ry="3.6" class="l" stroke-width="2.09" transform="rotate(-62 1703.6 905.2)" />
<path d="M1561.80,677.00 A84.4,49.02076215505914 0 0 1 1730.60,677.00 L1730.60,691.40 L1730.60,691.40 A84.4,44.42076215505914 0 0 1 1561.80,691.40 Z" class="f" stroke-width="2.31" />
<ellipse cx="1646.2" cy="673" rx="82.3" ry="48.2" class="l" stroke-width="1.6" />
<ellipse cx="1646.2" cy="669" rx="80.69999999999999" ry="47.2" class="l" stroke-width="2.4" />
<ellipse cx="1646.2" cy="665" rx="76.1" ry="44.2" class="f" stroke-width="1.2" />
<clipPath id="c5"><ellipse cx="1646.2" cy="665" rx="75.1" ry="43.2"/></clipPath><g clip-path="url(#c5)">
<path d="M1579.60,710.00 A66.6,30 0 0 1 1712.80,710.00" class="l" stroke-width="2.2" />
<path d="M1587.60,725.00 A58.599999999999994,25 0 0 1 1704.80,725.00" class="l" stroke-width="2.2" />
<path d="M1591.10,727.50 A55.099999999999994,24 0 0 1 1701.30,727.50" class="l" stroke-width="1.2" />
</g>
<clipPath id="c6"><ellipse cx="1646.2" cy="668.5" rx="72.8" ry="36.800000000000004"/></clipPath><g clip-path="url(#c6)">
<path d="M1578.15,686.86 A69.1,36.6 0 1 1 1714.25,686.86" class="l" stroke-width="2.2" />
</g>
<ellipse cx="1646.2" cy="668.5" rx="72.8" ry="36.800000000000004" class="l" stroke-width="2.42" />
<ellipse cx="1646.2" cy="665" rx="75.5" ry="43.800000000000004" class="l" stroke-width="3.4" />
<path d="M1571.22,531.20 A76.2832,43.034400000000005 0 0 1 1723.78,531.20 L1723.78,545.21 L1723.78,545.21 A76.2832,43.034400000000005 0 0 1 1571.22,545.21 Z" class="f" stroke-width="2.5" />
<path d="M1722.48,542.31 A75.39359999999999,43.479200000000006 0 0 1 1572.52,542.31" class="l" stroke-width="4.3" />
<ellipse cx="1647.5" cy="531.2" rx="75.1712" ry="42.03360000000001" class="l" stroke-width="4.0" />
<ellipse cx="1647.5" cy="534.0912000000001" rx="70.27839999999999" ry="40.8104" class="l" stroke-width="1.5" />
<path d="M1718.45,534.20 A70.9456,42.144800000000004 0 0 1 1576.55,534.20 L1579.67,531.31 A67.832,39.031200000000005 0 0 0 1715.33,531.31 Z" class="k" stroke-width="0.8" />
<path d="M1584.06,551.86 A65.3856,37.58560000000001 0 1 1 1710.94,551.86" class="l" stroke-width="2.4" />
<path d="M1645.9,619 L1645.9,657" stroke="#fff" stroke-width="8" fill="none"/>
<path d="M1645.9,676 L1645.9,683" stroke="#fff" stroke-width="8" fill="none"/>
<path d="M1645.9,591.3 L1645.9,629.6 M1645.9,635.8 L1645.9,640.6 M1645.9,646.8 L1645.9,690.1" class="l" stroke-width="2.2" />
</g>
<g id="small">
<path d="M1885.3,850 L1885.3,904.5 L1885.30,904.50 A49.4,31.4 0 0 0 1984.10,904.50 L1984.1,850 Z" class="f" stroke-width="2.31" />
<path d="M1892.61,916.60 A48.6,30.8 0 0 0 1976.79,916.60" class="l" stroke-width="1.6" />
<path d="M1874.10,827.00 A60.6,35.6 0 0 1 1995.30,827.00 L1995.3,843.5 L1995.30,843.50 A60.6,35.7 0 0 1 1874.10,843.50 Z" class="f" stroke-width="2.4" />
<path d="M1994.47,843.10 A60,35.6 0 0 1 1874.93,843.10" class="l" stroke-width="2.2" />
<ellipse cx="1934.7" cy="829" rx="60" ry="35" class="l" stroke-width="1.6" />
<ellipse cx="1934.7" cy="826" rx="58.6" ry="34" class="l" stroke-width="2.4" />
<ellipse cx="1934.7" cy="823" rx="56.3" ry="32" class="f" stroke-width="1.2" />
<clipPath id="c7"><ellipse cx="1934.7" cy="823" rx="55.5" ry="31.4"/></clipPath><g clip-path="url(#c7)">
<path d="M1880.54,839.58 A55,35 0 1 1 1988.86,839.58" class="l" stroke-width="1.6" />
<path d="M1882.01,844.33 A53.5,33.6 0 1 1 1987.39,844.33" class="l" stroke-width="3.4" />
<path d="M1885.46,855.81 A50,30.6 0 1 1 1983.94,855.81" class="l" stroke-width="2.2" />
<path d="M1886.94,859.78 A48.5,30.4 0 1 1 1982.46,859.78" class="l" stroke-width="2.2" />
</g>
<ellipse cx="1934.7" cy="823.2" rx="55.3" ry="31.2" class="l" stroke-width="4.6" />
<path d="M1878.50,718.50 A56,31 0 0 1 1990.50,718.50 L1990.5,729.8 L1990.50,729.80 A56,31 0 0 1 1878.50,729.80 Z" class="k" stroke-width="1.6" />
<ellipse cx="1934.5" cy="720.6" rx="52.7" ry="28" fill="#fff"/>
<clipPath id="r30"><ellipse cx="1934.5" cy="720.6" rx="52.7" ry="28"/></clipPath><g clip-path="url(#r30)">
<ellipse cx="1934.5" cy="721.2" rx="51.3" ry="26.9" class="l" stroke-width="1.1" />
<ellipse cx="1934.5" cy="728" rx="46.7" ry="27.6" class="l" stroke-width="2.8" />
</g>
<path d="M1983.98,741.28 A54.6,30 0 0 1 1885.02,741.28" class="l" stroke-width="0.9" stroke="#fff"/>
<path d="M1934.6,788 L1934.6,826" stroke="#fff" stroke-width="8" fill="none"/>
<path d="M1934.6,767.5 L1934.6,769.2 M1934.6,776.1 L1934.6,779.5 M1934.6,786.4 L1934.6,829.4" class="l" stroke-width="2.2" />
</g>
</svg>
</body>
</html>
